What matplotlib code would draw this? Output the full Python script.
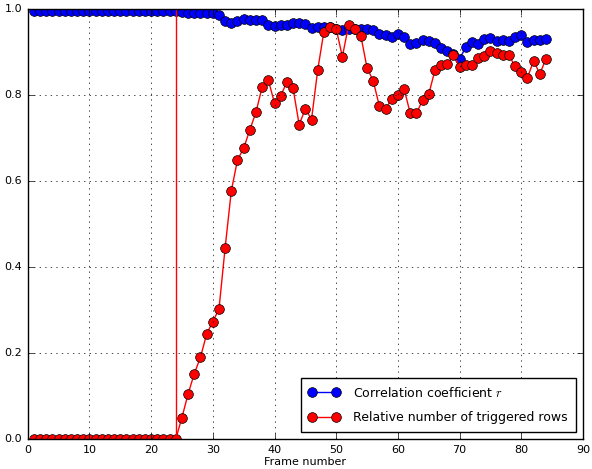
import matplotlib
matplotlib.use("Agg")
import matplotlib.pyplot as plt
import numpy as np

plt.style.use("classic")

frames = list(range(1, 85))

corr = [0.995] * 24 + [0.992, 0.991, 0.990, 0.990, 0.990, 0.991, 0.985,
        0.971, 0.967, 0.971, 0.977, 0.974, 0.974, 0.974, 0.962, 0.960,
        0.963, 0.962, 0.967, 0.968, 0.965, 0.956, 0.957, 0.958, 0.957,
        0.954, 0.950, 0.954, 0.954, 0.953, 0.954, 0.950, 0.943, 0.940,
        0.934, 0.942, 0.934, 0.919, 0.920, 0.929, 0.925, 0.920, 0.909,
        0.903, 0.895, 0.884, 0.911, 0.923, 0.919, 0.931, 0.932, 0.926,
        0.928, 0.926, 0.934, 0.939, 0.923, 0.928, 0.928, 0.931]

triggered = [0.0] * 24 + [0.050, 0.105, 0.152, 0.190, 0.244, 0.273, 0.302,
             0.445, 0.577, 0.649, 0.676, 0.719, 0.760, 0.819, 0.835, 0.781,
             0.798, 0.830, 0.816, 0.731, 0.768, 0.743, 0.858, 0.947, 0.957,
             0.954, 0.889, 0.962, 0.953, 0.937, 0.863, 0.833, 0.774, 0.767,
             0.791, 0.799, 0.815, 0.757, 0.757, 0.788, 0.802, 0.857, 0.869,
             0.872, 0.892, 0.866, 0.870, 0.869, 0.886, 0.891, 0.903, 0.897,
             0.892, 0.892, 0.867, 0.853, 0.840, 0.880, 0.849, 0.884]

onset_frame = 24

fig = plt.figure(figsize=(5.92, 4.69), dpi=100, facecolor="white")
ax = fig.add_axes([27.7 / 592, 1 - 439 / 469, (583 - 27.7) / 592, (439 - 9) / 469])

ax.plot(frames, corr, "-o", color="b", markerfacecolor="b",
        markeredgecolor="k", markersize=7, linewidth=1,
        label="Correlation coefficient $r$")
ax.plot(frames, triggered, "-o", color="r", markerfacecolor="r",
        markeredgecolor="k", markersize=7, linewidth=1,
        label="Relative number of triggered rows")
ax.axvline(onset_frame, color="r", linewidth=1)

ax.set_xlim(0, 90)
ax.set_ylim(0, 1.0)
ax.set_xticks(np.arange(0, 91, 10))
ax.set_yticks(np.arange(0, 1.01, 0.2))
ax.grid(True, color="k", linestyle=":")
ax.tick_params(labelsize=8)
ax.set_xlabel("Frame number", fontsize=8, labelpad=2)

leg = ax.legend(loc="lower right", fontsize=9, numpoints=2,
                handlelength=2.5, handletextpad=1.1, borderpad=0.6,
                labelspacing=0.9, borderaxespad=0.6)

fig.savefig("out.png", dpi=100, facecolor="white")
